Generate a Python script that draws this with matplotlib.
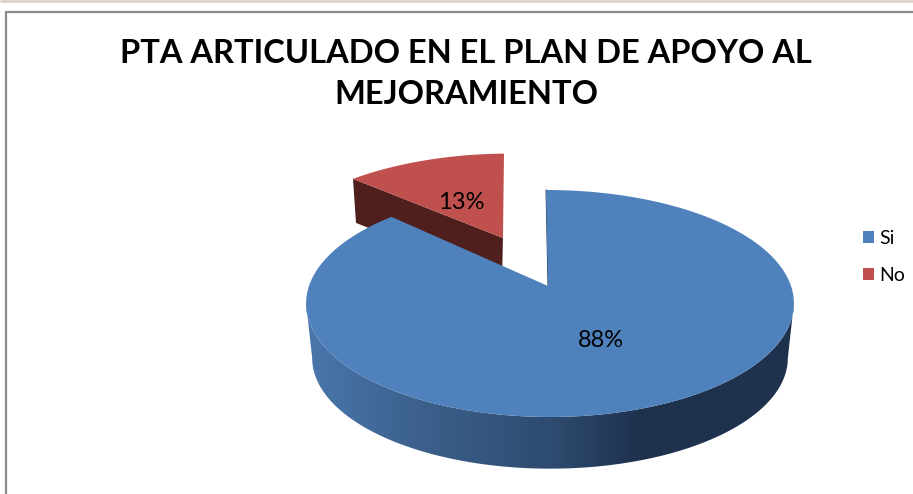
import numpy as np
import matplotlib
matplotlib.use("Agg")
import matplotlib.pyplot as plt
from matplotlib.patches import Polygon, Patch
from matplotlib.colors import LinearSegmentedColormap

title = "PTA ARTICULADO EN EL PLAN DE APOYO AL\nMEJORAMIENTO"
categories = ["Si", "No"]
values = [88, 13]
colors = ["#4f81bd", "#c0504d"]
label_text = [f"{v}%" for v in values]

plt.rcParams['font.family'] = ['Lato', 'DejaVu Sans']
fig = plt.figure(figsize=(9.13, 4.94), dpi=100, facecolor='white')
ax = fig.add_axes([0, 0, 1, 1])

K = 0.154
def top(u, v):
    w = 1 + K * v
    shift = (2 + 2 * v) * (1 - np.abs(u))
    return 550 + 241 * u / w - shift, 286 - 110.8 * v / w

def bottom(u, v):
    w = 1 + K * v
    return 550 + 235 * u / w, 341 - 108 * v / w

fractions = np.array(values, float) / sum(values)
split = 2 * np.pi * fractions[0]

# blue side wall with horizontal shading (a gradient clipped to the wall outline)
shade = LinearSegmentedColormap.from_list('wall', [
    (0.0, (74/255, 120/255, 175/255)),
    (0.2, (62/255, 100/255, 145/255)),
    (0.5, (46/255, 75/255, 112/255)),
    (0.68, (30/255, 50/255, 78/255)),
    (1.0, (30/255, 50/255, 78/255))])
t_wall = np.linspace(np.pi / 2 + K, 3 * np.pi / 2 - K, 361)
wu, wv = np.sin(t_wall), np.cos(t_wall)
tx, ty = top(wu, wv)
bx, by = bottom(wu, wv)
wall = Polygon(np.r_[np.c_[tx, ty], np.c_[bx, by][::-1]], closed=True, fc='none', ec='none',
               transform=ax.transData)
ax.add_patch(wall)
grad = np.linspace(0, 1, 500).reshape(1, -1)
im = ax.imshow(grad, cmap=shade, extent=(300, 800, 480, 280), aspect='auto', zorder=4,
               interpolation='bilinear')
im.set_clip_path(wall)

ax.set_xlim(0, 913)
ax.set_ylim(494, 0)
ax.axis('off')

# frame
ax.plot([0, 913], [1, 1], color='#d9d3cb', lw=2, solid_capstyle='butt')
ax.plot([6, 6, 913], [494, 12, 12], color='#8c8c8c', lw=1.6, solid_joinstyle='miter')

# exploded red slice
mid = split + (2 * np.pi - split) / 2
EXPLODE = 0.505
eu, ev = EXPLODE * np.sin(mid), EXPLODE * np.cos(mid)
t_red = np.linspace(split, 2 * np.pi, 60)
ru, rv = eu + np.sin(t_red), ev + np.cos(t_red)
rx, ry = top(ru, rv)
ax0, ay0 = top(np.array([eu]), np.array([ev]))
tipx, tipy = rx[0] - 8, ry[0] + 1.5
wall_dx, wall_dy = 3, 44
ax.add_patch(Polygon([(tipx, tipy), (ax0[0], ay0[0]), (ax0[0] - 1, ay0[0] + wall_dy),
                      (tipx + wall_dx, tipy + wall_dy)], closed=True, fc='#4e1f1d', ec='none', zorder=2))
frac = (t_red - split) / (2 * np.pi - split)
rxx = rx - 8 * (1 - frac) - 3 * frac
ryy = ry + 1.5 * (1 - frac)
ax.add_patch(Polygon(np.r_[np.c_[rxx, ryy], [[ax0[0], ay0[0]]]], closed=True,
                     fc=colors[1], ec='none', zorder=3))

# blue top surface
t_blue = np.linspace(0, split, 400)
bux, buy = top(np.sin(t_blue), np.cos(t_blue))
c0x, c0y = top(np.array([0.0]), np.array([0.0]))
ax.add_patch(Polygon(np.r_[[[c0x[0], c0y[0]]], np.c_[bux, buy]], closed=True,
                     fc=colors[0], ec='none', zorder=5))
ax.plot([bux[0], c0x[0]], [buy[0], c0y[0]], color='#1f3450', lw=0.7, zorder=4.5)

# texts
fig.text(466 / 913, 1 - 74 / 494, title, ha='center', va='center', fontsize=23.5,
         fontweight='bold', color='black', linespacing=1.48)
ax.text(601, 340.5, label_text[0], ha='center', va='center', fontsize=17, color='black', zorder=6)
ax.text(461, 202.5, label_text[1], ha='center', va='center', fontsize=17, color='black', zorder=6)

handles = [Patch(fc=c, ec='none') for c in colors]
ax.legend(handles, categories, loc='center left', bbox_to_anchor=(863 / 913, 1 - 257 / 494),
          bbox_transform=fig.transFigure, frameon=False, fontsize=14,
          handlelength=0.57, handleheight=0.57, handletextpad=0.25,
          labelspacing=1.05, borderpad=0, borderaxespad=0)

fig.savefig('out.png', dpi=100, facecolor='white')
